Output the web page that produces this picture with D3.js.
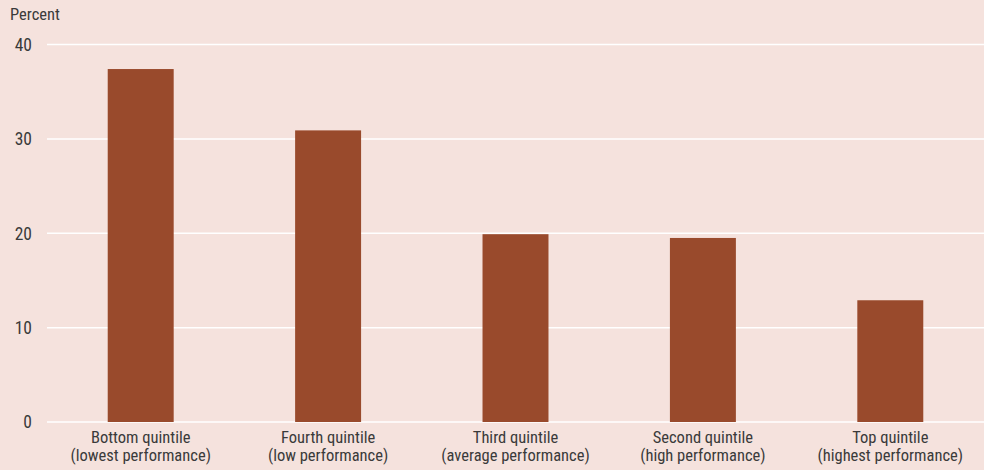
<!DOCTYPE html>
<html><head><meta charset="utf-8">
<script src="https://cdn.jsdelivr.net/npm/d3@7"></script>
<style>
html,body{margin:0;padding:0;background:#f5e2dd;}
svg{display:block;}
text{font-family:"Liberation Sans Narrow","Arial Narrow","Roboto Condensed",sans-serif;fill:#3a3a3a;}
</style></head>
<body><svg id="c" width="984" height="470"></svg>
<script>
const categories = ["Bottom quintile|(lowest performance)","Fourth quintile|(low performance)","Third quintile|(average performance)","Second quintile|(high performance)","Top quintile|(highest performance)"];
const values = [37.4, 30.9, 19.9, 19.5, 12.9];
const yTicks = [0, 10, 20, 30, 40];
const yLabel = "Percent";

const svg = d3.select("#c");
const W = 984, H = 470;
svg.append("rect").attr("width", W).attr("height", H).attr("fill", "#f5e2dd");
const x = d3.scaleBand().domain(categories).range([47, 984]).paddingInner(0.648).paddingOuter(0.324);
const y = d3.scaleLinear().domain([0, 40]).range([422, 44.5]);

const grid = svg.append("g");
grid.selectAll("line").data(yTicks).join("line")
  .attr("x1", 47).attr("x2", W)
  .attr("y1", d => y(d)).attr("y2", d => y(d))
  .attr("stroke", "#ffffff").attr("stroke-width", 1.5);

svg.append("g").selectAll("text").data(yTicks).join("text")
  .attr("x", 32).attr("y", d => y(d)).attr("dy", "0.36em")
  .attr("text-anchor", "end").attr("font-size", 17.5).text(d => d);

svg.append("text").attr("x", 10).attr("y", 19.5).attr("font-size", 16.5).text(yLabel);

svg.append("g").selectAll("rect").data(values).join("rect")
  .attr("x", (d, i) => x(categories[i])).attr("width", x.bandwidth())
  .attr("y", d => y(d)).attr("height", d => y(0) - y(d))
  .attr("fill", "#994a2c");

const lab = svg.append("g").selectAll("text").data(categories).join("text")
  .attr("text-anchor", "middle").attr("font-size", 16.5)
  .attr("x", d => x(d) + x.bandwidth() / 2);
lab.append("tspan").attr("x", d => x(d) + x.bandwidth() / 2).attr("y", 443).text(d => d.split("|")[0]);
lab.append("tspan").attr("x", d => x(d) + x.bandwidth() / 2).attr("y", 461).text(d => d.split("|")[1]);
</script></body></html>
